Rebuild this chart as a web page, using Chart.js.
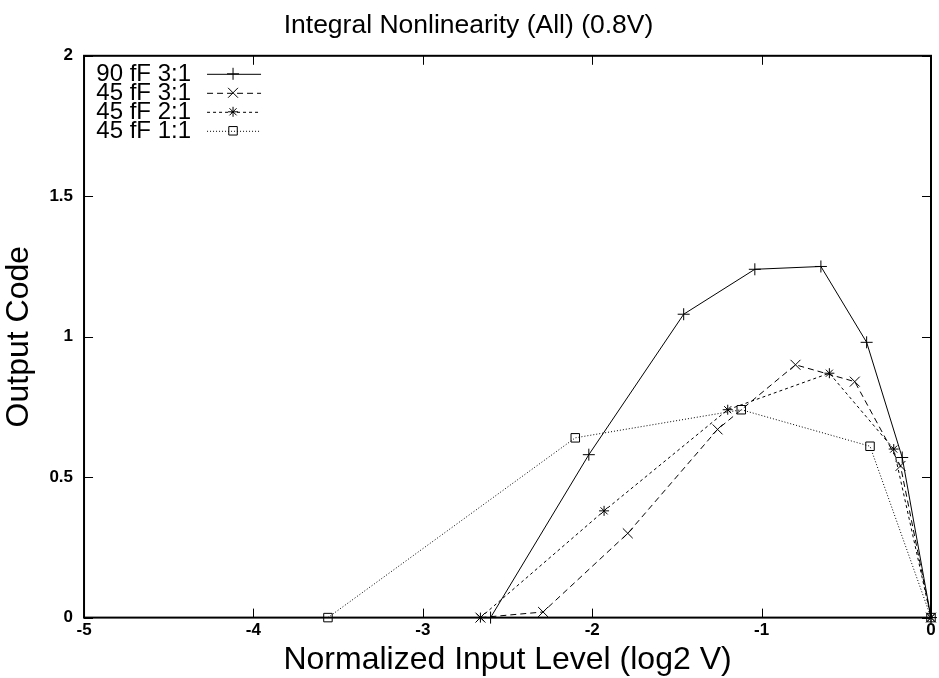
<!DOCTYPE html>
<html>
<head>
<meta charset="utf-8">
<script src="https://cdn.jsdelivr.net/npm/chart.js@4/dist/chart.umd.min.js"></script>
<style>
  html, body { margin: 0; padding: 0; background: #fff; }
  #wrap { width: 939px; height: 678px; }
</style>
</head>
<body>
<div id="wrap"><canvas id="inl" width="939" height="678"></canvas></div>
<script>
// series labels
const seriesNames = ["90 fF 3:1", "45 fF 3:1", "45 fF 2:1", "45 fF 1:1"]

// input level (log2 V) and output code per series
const x90_31 = [-2.6, -2.02, -1.46, -1.04, -0.65, -0.38, -0.17, 0]
const y90_31 = [0, 0.58, 1.08, 1.24, 1.25, 0.98, 0.57, 0]
const x45_31 = [-2.66, -2.29, -1.79, -1.26, -0.8, -0.45, -0.18, 0]
const y45_31 = [0, 0.02, 0.30, 0.67, 0.90, 0.84, 0.54, 0]
const x45_21 = [-2.66, -1.93, -1.2, -0.6, -0.22, 0]
const y45_21 = [0, 0.38, 0.74, 0.87, 0.60, 0]
const x45_11 = [-3.56, -2.1, -1.12, -0.36, 0]
const y45_11 = [0, 0.64, 0.74, 0.61, 0]

const xTicks = [-5, -4, -3, -2, -1, 0]
const yTicks = [0, 0.5, 1, 1.5, 2]

function pts(xs, ys) {
	return xs.map((x, i) => ({ x: x, y: ys[i] }))
}

const styles = [
	{ dash: [], point: 'cross', r: 6 },
	{ dash: [6, 4], point: 'crossRot', r: 7 },
	{ dash: [3, 3], point: 'star', r: 5 },
	{ dash: [1, 2], point: 'rect', r: 6 },
]
const seriesData = [pts(x90_31, y90_31), pts(x45_31, y45_31), pts(x45_21, y45_21), pts(x45_11, y45_11)]

const datasets = seriesNames.map((name, i) => ({
	label: name,
	data: seriesData[i],
	showLine: true,
	borderColor: '#000',
	borderWidth: 1,
	borderDash: styles[i].dash,
	pointStyle: styles[i].point,
	pointRadius: styles[i].r,
	pointHoverRadius: styles[i].r,
	pointBorderColor: '#000',
	pointBackgroundColor: 'rgba(0,0,0,0)',
	pointBorderWidth: 1,
	clip: false,
}))

// frame with inward ticks on all four sides, plus the gnuplot-style legend
const framePlugin = {
	id: 'frame',
	afterDraw(chart) {
		const ctx = chart.ctx
		const a = chart.chartArea
		const sx = chart.scales.x
		const sy = chart.scales.y
		const tl = 9
		ctx.save()
		ctx.strokeStyle = '#000'
		ctx.lineWidth = 1
		ctx.beginPath()
		xTicks.forEach(v => {
			const px = Math.round(sx.getPixelForValue(v)) + 0.5
			ctx.moveTo(px, a.bottom); ctx.lineTo(px, a.bottom - tl)
			ctx.moveTo(px, a.top); ctx.lineTo(px, a.top + tl)
		})
		yTicks.forEach(v => {
			const py = Math.round(sy.getPixelForValue(v)) + 0.5
			ctx.moveTo(a.left, py); ctx.lineTo(a.left + tl, py)
			ctx.moveTo(a.right, py); ctx.lineTo(a.right - tl, py)
		})
		ctx.stroke()
		ctx.lineWidth = 2
		ctx.strokeRect(a.left, a.top, a.right - a.left, a.bottom - a.top)

		// legend
		ctx.font = '24px "Liberation Sans", Arial, sans-serif'
		ctx.textAlign = 'right'
		ctx.textBaseline = 'middle'
		ctx.fillStyle = '#000'
		chart.data.datasets.forEach((ds, i) => {
			const y = a.top + 18 + i * 19
			ctx.fillText(ds.label, a.left + 107, y + 1)
			ctx.lineWidth = 1
			ctx.setLineDash(ds.borderDash)
			ctx.beginPath()
			ctx.moveTo(a.left + 123, y + 0.5)
			ctx.lineTo(a.left + 177, y + 0.5)
			ctx.stroke()
			ctx.setLineDash([])
			ctx.fillStyle = 'rgba(0,0,0,0)'
			Chart.helpers.drawPoint(ctx, { pointStyle: ds.pointStyle, radius: ds.pointRadius, borderWidth: 1, rotation: 0 }, a.left + 149, y)
			ctx.fillStyle = '#000'
		})
		ctx.restore()
	}
}

Chart.defaults.color = '#000'
Chart.defaults.font.family = '"Liberation Sans", Arial, sans-serif'

new Chart(document.getElementById('inl').getContext('2d'), {
	type: 'scatter',
	data: { datasets: datasets },
	options: {
		responsive: false,
		animation: false,
		layout: { padding: { left: 0, right: 2, top: 0, bottom: 0 } },
		plugins: {
			legend: { display: false },
			tooltip: { enabled: false },
			title: {
				display: true,
				text: 'Integral Nonlinearity (All) (0.8V)',
				font: { size: 26.5, weight: 'normal' },
				padding: { top: 10, bottom: 14 },
			},
		},
		scales: {
			x: {
				type: 'linear',
				min: -5,
				max: 0,
				afterFit: s => { s.paddingRight = 0 },
				grid: { display: false, drawTicks: false },
				border: { display: false },
				ticks: { stepSize: 1, font: { size: 17, weight: 'bold' }, padding: 3, maxRotation: 0 },
				title: { display: true, text: 'Normalized Input Level (log2 V)', font: { size: 32, lineHeight: 1 }, padding: { top: 0, bottom: 2 } },
			},
			y: {
				min: 0,
				max: 2,
				grid: { display: false, drawTicks: false },
				border: { display: false },
				ticks: { stepSize: 0.5, font: { size: 17, weight: 'bold' }, padding: 11, callback: v => String(v) },
				title: { display: true, text: 'Output Code', font: { size: 32 }, padding: { top: 0, bottom: 0 } },
			},
		},
	},
	plugins: [framePlugin],
});
</script>
</body>
</html>
